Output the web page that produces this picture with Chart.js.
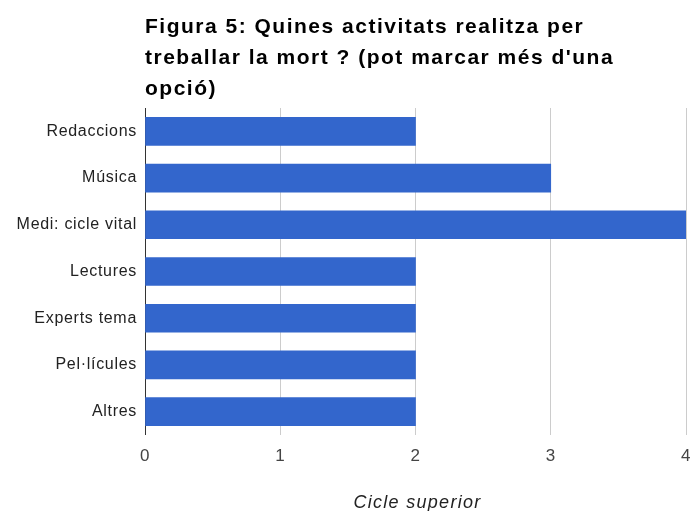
<!DOCTYPE html>
<html><head><meta charset="utf-8">
<script src="https://cdn.jsdelivr.net/npm/chart.js@4"></script>
<style>html,body{margin:0;padding:0;background:#fff}#wrap{width:693px;height:511px}</style>
</head><body><div id="wrap"><canvas id="c" width="693" height="511"></canvas></div>
<script>
const titleLines = ["Figura 5: Quines activitats realitza per", "treballar la mort ? (pot marcar més d'una", "opció)"];
const categories = ["Redaccions", "Música", "Medi: cicle vital", "Lectures", "Experts tema", "Pel·lícules", "Altres"];
const values = [2, 3, 4, 2, 2, 2, 2];
const xTicks = [0, 1, 2, 3, 4];
const xTitle = "Cicle superior";

const FONT = '"Liberation Sans", Arial, sans-serif';

const textPlugin = {
  id: 'textExtras',
  beforeLayout(chart) { chart.ctx.letterSpacing = '0.7px'; },
  beforeDraw(chart) { chart.ctx.letterSpacing = '0.7px'; },
  afterDraw(chart) {
    const ctx = chart.ctx;
    const a = chart.chartArea;
    ctx.save();
    ctx.letterSpacing = '1.5px';
    ctx.font = 'bold 21px ' + FONT;
    ctx.fillStyle = '#000';
    ctx.textBaseline = 'alphabetic';
    ctx.textAlign = 'left';
    titleLines.forEach((t, i) => ctx.fillText(t, a.left, 33 + i * 31));
    ctx.letterSpacing = '1.3px';
    ctx.font = 'italic 18px ' + FONT;
    ctx.fillStyle = '#222';
    ctx.textAlign = 'center';
    ctx.fillText(xTitle, (a.left + a.right) / 2 + 2, 508);
    ctx.restore();
  }
};

new Chart(document.getElementById('c'), {
  type: 'bar',
  data: { labels: categories, datasets: [{ data: values, backgroundColor: '#3366cc', barThickness: 28 }] },
  options: {
    indexAxis: 'y', responsive: false, animation: false,
    layout: { padding: { top: 108, right: 7, left: 0, bottom: 0 } },
    plugins: { legend: { display: false }, tooltip: { enabled: false } },
    scales: {
      x: {
        min: 0, max: 4,
        afterBuildTicks(s) { s.ticks = xTicks.map(v => ({ value: v })); },
        afterFit(s) { s.height = 76; s.paddingRight = 0; s.paddingLeft = 0; },
        grid: { color: c => c.tick && c.tick.value === 0 ? '#333' : '#ccc', drawTicks: false, lineWidth: 1 },
        border: { display: false },
        ticks: { color: '#444', font: { family: FONT, size: 17 }, padding: 11 }
      },
      y: {
        afterFit(s) { s.width = 145; },
        grid: { display: false, drawTicks: false },
        border: { display: false },
        ticks: { color: '#222', font: { family: FONT, size: 16 }, padding: 8 }
      }
    }
  },
  plugins: [textPlugin]
});
</script></body></html>
